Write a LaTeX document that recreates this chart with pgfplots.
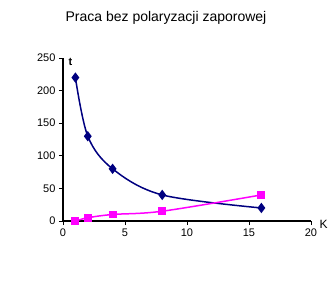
\documentclass[border=0pt]{standalone}
\usepackage{pgfplots}
\pgfplotsset{compat=1.18}
\usepackage{fontspec}
\setmainfont{Liberation Sans}
\definecolor{navyb}{RGB}{0,0,128}
\definecolor{mag}{RGB}{255,0,255}
\begin{document}
\begin{tikzpicture}[x=1pt,y=1pt]
\path (0,0) rectangle (332,285);
\node[font=\fontsize{14}{16}\selectfont] at (166,267) {Praca bez polaryzacji zaporowej};
\begin{axis}[
  at={(63pt,64pt)}, anchor=origin,
  scale only axis, width=248pt, height=163pt,
  xmin=0, xmax=20, ymin=0, ymax=250,
  axis lines=left, axis line style={-, line width=1.2pt},
  xtick={0,5,10,15,20}, ytick={0,50,100,150,200,250},
  tick style={black, line width=0.8pt},
  xtick align=outside, ytick align=outside,
  major tick length=4pt,
  tick label style={font=\fontsize{11}{13}\selectfont},
  /pgf/number format/assume math mode=true,
  clip=false,
]
\addplot[navyb, line width=1.5pt, smooth, tension=0.55, mark=diamond*, mark size=4pt, mark options={solid}]
  coordinates {(1,220) (2,130) (4,80) (8,40) (16,20)};
\addplot[mag, line width=1.5pt, smooth, tension=0.55, mark=square*, mark size=3.2pt, mark options={solid}]
  coordinates {(1,0) (2,5) (4,10) (8,15) (16,40)};
\node[font=\bfseries\fontsize{11}{13}\selectfont, anchor=north west] at (rel axis cs:0,1) [xshift=2pt,yshift=3pt] {t};
\node[font=\fontsize{12}{14}\selectfont, anchor=west] at (rel axis cs:1,0) [xshift=5pt,yshift=-3pt] {K};
\end{axis}
\end{tikzpicture}
\end{document}
